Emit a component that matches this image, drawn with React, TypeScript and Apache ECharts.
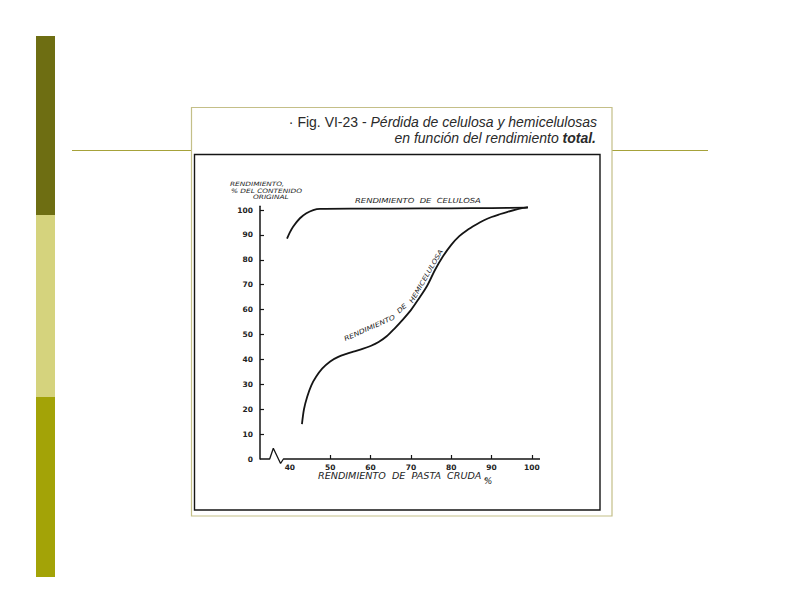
import React, { useEffect, useRef } from "react";
import * as echarts from "echarts";

// Tick labels
const xTickValues = [40, 50, 60, 70, 80, 90, 100];
const xTickMarks = [50, 60, 70, 80, 90, 100];
const yTickValues = [0, 10, 20, 30, 40, 50, 60, 70, 80, 90, 100];
const yTickMarks = [10, 20, 30, 40, 50, 60, 70, 80, 90, 100];

// Rendimiento de celulosa
const celulosaX = [39.3, 40.0, 40.8, 42.5, 44.1, 45.8, 47.5, 55, 65, 80, 90, 99];
const celulosaY = [88.5, 91.0, 93.3, 96.7, 98.7, 100.0, 100.5, 100.6, 100.6, 100.7, 100.8, 101.0];

// Rendimiento de hemicelulosa
const hemiX = [43.0, 43.5, 44.3, 45.3, 46.5, 48, 50, 52, 54, 56, 58, 60, 62, 64, 66, 68, 70, 72, 74, 76, 78, 80, 82, 84, 86, 88, 90, 92, 94, 96, 98, 99];
const hemiY = [14, 20, 25, 29.5, 33, 36.3, 39.2, 41, 42.2, 43.2, 44.2, 45.4, 47, 49.3, 52.5, 56, 59.8, 64.5, 69.5, 76, 81.5, 86, 89.5, 92, 94, 95.8, 97.2, 98.3, 99.3, 100.2, 100.9, 101.2];

// X axis line with break (data units)
const axisBreakX = [32.6, 35.0, 35.9, 37.7, 38.4, 102];
const axisBreakY = [0, 0, 4.3, -1.8, 0, 0];

const INK = "#151515";
const HAND = "DejaVu Sans";

export default function App() {
  const ref = useRef<HTMLDivElement>(null);
  useEffect(() => {
    if (!ref.current) return;
    const chart = echarts.init(ref.current, undefined, { renderer: "svg" });
    const zip = (xs: number[], ys: number[]) => xs.map((x, i) => [x, ys[i]]);
    const hand = (extra: any) => ({
      fontFamily: HAND,
      fontStyle: "italic",
      fill: "#1e1e1e",
      verticalAlign: "middle",
      ...extra,
    });
    chart.setOption({
      animation: false,
      backgroundColor: "#ffffff",
      grid: { left: 260, right: 252, top: 206.3, bottom: 153 },
      xAxis: {
        type: "value",
        min: 32.6,
        max: 102,
        axisLine: { show: false },
        splitLine: { show: false },
        axisTick: {
          show: true,
          inside: true,
          length: 4,
          customValues: xTickMarks,
          lineStyle: { color: INK, width: 1.2 },
        },
        axisLabel: {
          customValues: xTickValues,
          fontSize: 7.5,
          fontWeight: "bold",
          fontFamily: HAND,
          color: "#222",
          margin: 4,
        },
      },
      yAxis: {
        type: "value",
        min: 0,
        max: 101.5,
        axisLine: { show: true, lineStyle: { color: INK, width: 1.5 } },
        splitLine: { show: false },
        axisTick: {
          show: true,
          inside: true,
          length: 4,
          customValues: yTickMarks,
          lineStyle: { color: INK, width: 1.2 },
        },
        axisLabel: {
          customValues: yTickValues,
          fontSize: 7.5,
          fontWeight: "bold",
          fontFamily: HAND,
          color: "#222",
          margin: 7,
        },
      },
      series: [
        {
          name: "eje",
          type: "line",
          data: zip(axisBreakX, axisBreakY),
          showSymbol: false,
          clip: false,
          silent: true,
          lineStyle: { color: INK, width: 1.3 },
        },
        {
          name: "Rendimiento de celulosa",
          type: "line",
          data: zip(celulosaX, celulosaY),
          smooth: 0.3,
          showSymbol: false,
          clip: false,
          lineStyle: { color: INK, width: 1.8 },
        },
        {
          name: "Rendimiento de hemicelulosa",
          type: "line",
          data: zip(hemiX, hemiY),
          smooth: 0.3,
          showSymbol: false,
          clip: false,
          lineStyle: { color: INK, width: 1.8 },
        },
      ],
      graphic: [
        // left decorative bar
        { type: "rect", z: -10, shape: { x: 36, y: 36, width: 19, height: 179 }, style: { fill: "#6e6e12" } },
        { type: "rect", z: -10, shape: { x: 36, y: 215, width: 19, height: 182 }, style: { fill: "#d5d37d" } },
        { type: "rect", z: -10, shape: { x: 36, y: 397, width: 19, height: 180 }, style: { fill: "#a3a307" } },
        // horizontal rule
        { type: "line", z: -10, shape: { x1: 72, y1: 150.5, x2: 708, y2: 150.5 }, style: { stroke: "#a6a23a", lineWidth: 1.2 } },
        // picture box
        { type: "rect", z: -9, shape: { x: 191.5, y: 107.5, width: 420.5, height: 408.5 }, style: { fill: "#ffffff", stroke: "#c4bf88", lineWidth: 1.2 } },
        // inner scanned frame
        { type: "rect", z: -8, shape: { x: 194.5, y: 154.5, width: 405.5, height: 355.5 }, style: { fill: "none", stroke: INK, lineWidth: 1.4 } },
        // title
        {
          type: "text",
          x: 597,
          y: 122,
          style: {
            text: "{n|· Fig. VI-23 - }{i|Pérdida de celulosa y hemicelulosas}",
            align: "right",
            verticalAlign: "middle",
            rich: {
              n: { fontFamily: "Liberation Sans", fontSize: 14, fill: "#2a2a2a" },
              i: { fontFamily: "Liberation Sans", fontSize: 14, fontStyle: "italic", fill: "#2a2a2a" },
            },
          },
        },
        {
          type: "text",
          x: 596,
          y: 138,
          style: {
            text: "{i|en función del rendimiento }{b|total.}",
            align: "right",
            verticalAlign: "middle",
            rich: {
              i: { fontFamily: "Liberation Sans", fontSize: 14, fontStyle: "italic", fill: "#2a2a2a" },
              b: { fontFamily: "Liberation Sans", fontSize: 14, fontStyle: "italic", fontWeight: "bold", fill: "#2a2a2a" },
            },
          },
        },
        // y axis title
        { type: "text", x: 230, y: 184.5, scaleX: 1.23, style: hand({ text: "RENDIMIENTO,", fontSize: 6 }) },
        { type: "text", x: 231, y: 191, scaleX: 1.23, style: hand({ text: "% DEL CONTENIDO", fontSize: 6 }) },
        { type: "text", x: 253, y: 197.5, scaleX: 1.23, style: hand({ text: "ORIGINAL", fontSize: 6 }) },
        // x axis title
        { type: "text", x: 318, y: 476, scaleX: 1.2, style: hand({ text: "RENDIMIENTO  DE  PASTA  CRUDA ,", fontSize: 8 }) },
        { type: "text", x: 488, y: 481, style: hand({ text: "%", fontSize: 9, align: "center" }) },
        // curve labels
        { type: "text", x: 355, y: 201, scaleX: 1.2, style: hand({ text: "RENDIMIENTO  DE  CELULOSA", fontSize: 7 }) },
        { type: "text", x: 371, y: 331, rotation: (24 * Math.PI) / 180, scaleX: 1.2, style: hand({ text: "RENDIMIENTO", fontSize: 6.5, align: "center", verticalAlign: "bottom" }) },
        { type: "text", x: 404, y: 311, rotation: (42 * Math.PI) / 180, scaleX: 1.2, style: hand({ text: "DE", fontSize: 6.5, align: "center", verticalAlign: "bottom" }) },
        { type: "text", x: 429, y: 278, rotation: (60 * Math.PI) / 180, scaleX: 1.2, style: hand({ text: "HEMICELULOSA", fontSize: 6.5, align: "center", verticalAlign: "bottom" }) },
      ],
    });
    return () => chart.dispose();
  }, []);
  return (
    <div
      ref={ref}
      style={{ position: "absolute", left: 0, top: 0, width: 792, height: 612, background: "#fff" }}
    />
  );
}
